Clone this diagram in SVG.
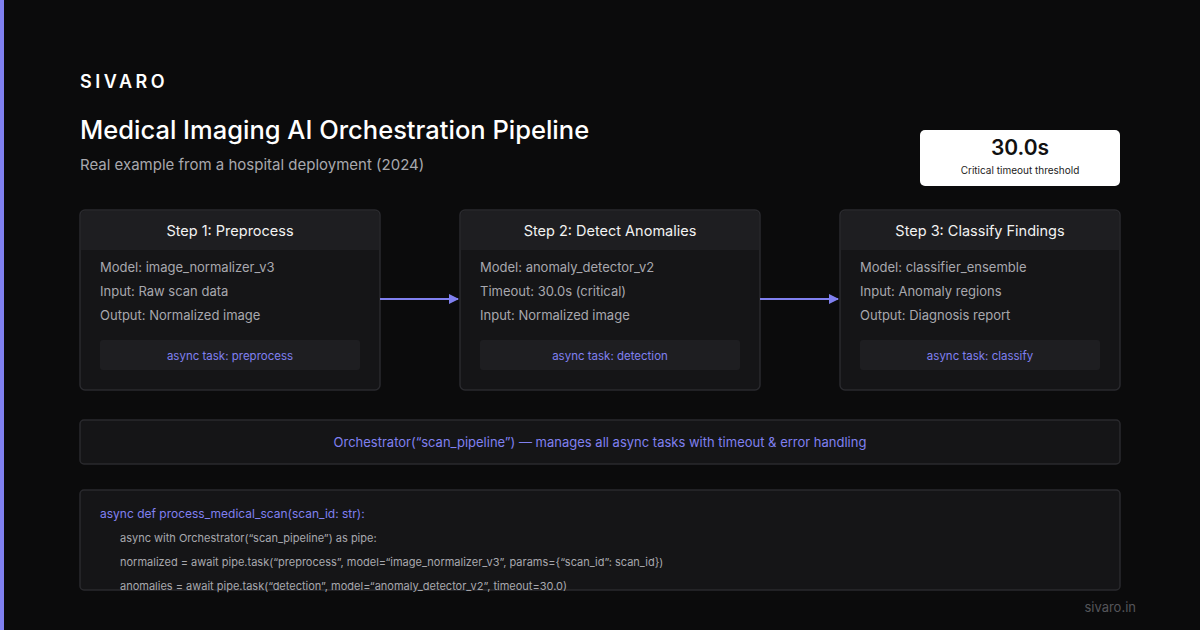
<svg xmlns="http://www.w3.org/2000/svg" width="1200" height="630" viewBox="0 0 1200 630">
<style>
text{font-family:Inter,"Liberation Sans",sans-serif}
.card{fill:#151517;stroke:#2a2a2e;stroke-width:1.5}
.hdr{fill:#1e1e21}
.ht{fill:#f2f2f2;font-size:14.5px;text-anchor:middle}
.bt{fill:#a8a8ae;font-size:13px}
.tag{fill:#1e1e21}
.tt{fill:#8080f0;font-size:11.5px;text-anchor:middle}
.code{fill:#a8a8ae;font-size:11px}
.conn{stroke:#8080f0;stroke-width:2;fill:none;marker-end:url(#ah)}
</style>
<defs><marker id="ah" viewBox="0 0 10 10" refX="9" refY="5" markerWidth="10" markerHeight="10" markerUnits="userSpaceOnUse" orient="auto"><path d="M0,0L10,5L0,10z" fill="#8080f0"/></marker></defs>
<rect width="1200" height="630" fill="#0b0b0c"/>
<rect width="4" height="630" fill="#8080f0"/>
<text x="80" y="88" fill="#fff" font-size="18" font-weight="600" letter-spacing="3.5">SIVARO</text>
<text x="80" y="139" fill="#fff" font-size="25.5" font-weight="500">Medical Imaging AI Orchestration Pipeline</text>
<text x="80" y="170" fill="#a8a8ae" font-size="15">Real example from a hospital deployment (2024)</text>
<g id="threshold"><rect x="920" y="130" width="200" height="56" rx="5" fill="#fff"/><text x="1020" y="155" font-size="21" font-weight="600" fill="#111" text-anchor="middle">30.0s</text><text x="1020" y="174" font-size="10" fill="#222" text-anchor="middle">Critical timeout threshold</text></g>
<g id="step1"><rect class="card" x="80" y="210" width="300" height="180" rx="5"/><path class="hdr" d="M81,250V215a4,4 0 0 1 4,-4H375a4,4 0 0 1 4,4V250z"/><text class="ht" x="230" y="236">Step 1: Preprocess</text><text class="bt" x="100" y="272">Model: image_normalizer_v3</text><text class="bt" x="100" y="296">Input: Raw scan data</text><text class="bt" x="100" y="320">Output: Normalized image</text><rect class="tag" x="100" y="340" width="260" height="30" rx="3"/><text class="tt" x="230" y="360">async task: preprocess</text></g>
<g id="step2"><rect class="card" x="460" y="210" width="300" height="180" rx="5"/><path class="hdr" d="M461,250V215a4,4 0 0 1 4,-4H755a4,4 0 0 1 4,4V250z"/><text class="ht" x="610" y="236">Step 2: Detect Anomalies</text><text class="bt" x="480" y="272">Model: anomaly_detector_v2</text><text class="bt" x="480" y="296">Timeout: 30.0s (critical)</text><text class="bt" x="480" y="320">Input: Normalized image</text><rect class="tag" x="480" y="340" width="260" height="30" rx="3"/><text class="tt" x="610" y="360">async task: detection</text></g>
<g id="step3"><rect class="card" x="840" y="210" width="280" height="180" rx="5"/><path class="hdr" d="M841,250V215a4,4 0 0 1 4,-4H1115a4,4 0 0 1 4,4V250z"/><text class="ht" x="980" y="236">Step 3: Classify Findings</text><text class="bt" x="860" y="272">Model: classifier_ensemble</text><text class="bt" x="860" y="296">Input: Anomaly regions</text><text class="bt" x="860" y="320">Output: Diagnosis report</text><rect class="tag" x="860" y="340" width="240" height="30" rx="3"/><text class="tt" x="980" y="360">async task: classify</text></g>
<g id="connectors"><path class="conn" d="M380,299H458"/><path class="conn" d="M760,299H838"/></g>
<g id="orchestrator"><rect class="card" x="80" y="420" width="1040" height="44" rx="4" fill="#1a1a1d"/><text x="600" y="447" fill="#8080f0" font-size="13" text-anchor="middle">Orchestrator(“scan_pipeline”) — manages all async tasks with timeout &amp; error handling</text></g>
<g id="code"><rect class="card" x="80" y="490" width="1040" height="100" rx="4"/><text x="100" y="518" fill="#8080f0" font-size="12">async def process_medical_scan(scan_id: str):</text><text class="code" x="120" y="542">async with Orchestrator(“scan_pipeline”) as pipe:</text><text class="code" x="120" y="566">normalized = await pipe.task(“preprocess”, model=“image_normalizer_v3”, params={“scan_id”: scan_id})</text><text class="code" x="120" y="590">anomalies = await pipe.task(“detection”, model=“anomaly_detector_v2”, timeout=30.0)</text></g>
<text x="1136" y="612" fill="#55555a" font-size="13" text-anchor="end">sivaro.in</text>
</svg>
